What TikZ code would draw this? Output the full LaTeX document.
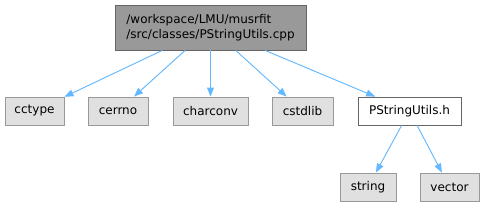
\documentclass[tikz,border=0pt]{standalone}
\usepackage{fontspec}
\setmainfont{DejaVu Sans}
\usetikzlibrary{arrows.meta}
\definecolor{cEdge}{HTML}{63B8FF}
\definecolor{cExt}{HTML}{999999}
\definecolor{cExtBg}{HTML}{E0E0E0}
\definecolor{cMain}{HTML}{666666}
\definecolor{cMainBg}{HTML}{999999}
\tikzset{
  box/.style={draw,line width=0.9pt,inner sep=0pt,minimum height=28pt,
              font=\fontsize{12}{15}\selectfont},
  ext/.style ={box,draw=cExt,fill=cExtBg,minimum width=#1},
  hdr/.style ={box,draw=cMain,fill=white,minimum width=#1},
  top/.style ={box,draw=cMain,fill=cMainBg,minimum width=#1,minimum height=45pt,
               align=left},
  dep/.style={-{Triangle[length=9pt,width=7pt]},line width=0.9pt,draw=cEdge,fill=cEdge},
}
\begin{document}
\begin{tikzpicture}[x=1pt,y=-1pt]
\useasboundingbox (0,0) rectangle (484,207);

% ---------------------------------------------------------------- file
\node[top=191pt] (root) at (210.5,27.5) {%
/workspace/LMU/musrfit\\
/src/classes/PStringUtils.cpp};

% ---------------------------------------------------------------- includes
\node[ext=59pt] (cctype)   at (34.5,111)  {cctype};
\node[ext=60pt] (cerrno)   at (118,111)   {cerrno};
\node[ext=75pt] (charconv) at (210.5,111) {charconv};
\node[ext=61pt] (cstdlib)  at (302.5,111) {cstdlib};
\node[hdr=103pt] (psu)     at (409.5,111) {PStringUtils.h};

\node[ext=56pt] (string) at (368,187)   {string};
\node[ext=59pt] (vector) at (449.5,187) {vector};

% ---------------------------------------------------------------- arrows
\draw[dep] (root) -- (cctype);
\draw[dep] (root) -- (cerrno);
\draw[dep] (root) -- (charconv);
\draw[dep] (root) -- (cstdlib);
\draw[dep] (root) -- (psu);

\draw[dep] (psu) -- (string);
\draw[dep] (psu) -- (vector);

\end{tikzpicture}
\end{document}
